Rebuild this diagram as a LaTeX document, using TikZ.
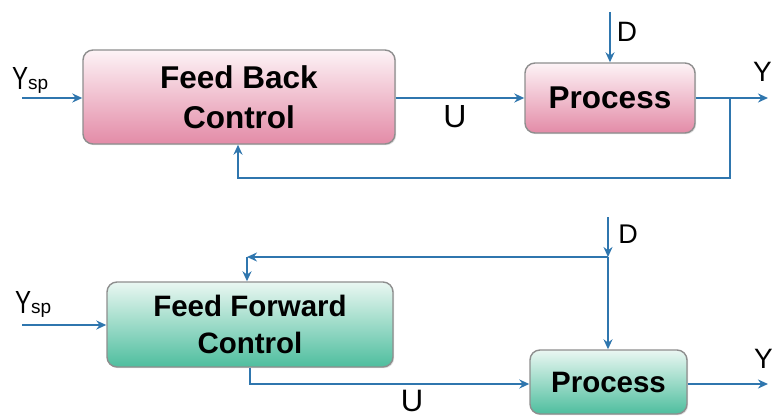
\documentclass[tikz,border=0pt]{standalone}
\usepackage{fontspec}
\setmainfont{Liberation Sans}
\usetikzlibrary{arrows.meta,shadows}
\definecolor{lineblue}{HTML}{2F76AE}
\definecolor{pinktop}{HTML}{FDF3F6}
\definecolor{pinkbot}{HTML}{E38BA7}
\definecolor{greentop}{HTML}{EAF7F2}
\definecolor{greenbot}{HTML}{4EBE9E}
\definecolor{boxborder}{HTML}{8E8E8E}
\tikzset{
  blockbase/.style={draw=boxborder, line width=1.4pt, rounded corners=10pt, align=center,
    inner sep=0pt, font=\bfseries, text=black,
    drop shadow={opacity=0.25, shadow xshift=1.2pt, shadow yshift=-1.2pt}},
  pinkbox/.style={blockbase, top color=pinktop, bottom color=pinkbot},
  greenbox/.style={blockbase, top color=greentop, bottom color=greenbot},
  conn/.style={draw=lineblue, line width=2.1pt},
  arr/.style={conn, -{Stealth[length=10pt,width=9pt]}},
  lbl/.style={inner sep=0pt, text=black},
}
\newcommand{\Ysub}{\scalebox{0.75}[1]{\fontsize{32}{32}\selectfont Y}{\fontsize{19}{19}\selectfont sp}}
\begin{document}
\begin{tikzpicture}[x=1pt,y=-1pt]
\useasboundingbox (0,0) rectangle (774,417);
% ---------------- top: feedback ----------------
\node[pinkbox, minimum width=312pt, minimum height=94pt,
      font=\fontsize{31.5}{40}\selectfont\bfseries] (FB) at (239,97) {Feed Back\\Control};
\node[pinkbox, minimum width=170pt, minimum height=70pt,
      font=\fontsize{31.5}{36}\selectfont\bfseries] (P1) at (610,98) {Process};
\coordinate (ysp1s) at (22,98);
\coordinate (d1s) at (610,12);
\coordinate (y1e) at (768,98);
\coordinate (br1) at (730,98);
\coordinate (fb1) at (730,178);
\coordinate (fb2) at (238,178);
\draw[arr] (ysp1s) -- (ysp1s -| FB.west);
\draw[arr] (ysp1s -| FB.east) -- (ysp1s -| P1.west);
\draw[arr] (d1s) -- (P1.north);
\draw[arr] (ysp1s -| P1.east) -- (y1e);
\draw[arr] (br1) -- (fb1) -- (fb2) -- (fb2 |- FB.south);
\node[lbl, anchor=base west] (ysp1) at (12,90) {\Ysub};
\node[lbl, font=\fontsize{32}{32}\selectfont] (u1) at (455,117) {U};
\node[lbl, font=\fontsize{28}{28}\selectfont] (d1) at (627,32) {D};
\node[lbl, anchor=base west, font=\fontsize{28}{28}\selectfont] (y1) at (753,82) {Y};
% ---------------- bottom: feedforward ----------------
\node[greenbox, minimum width=286pt, minimum height=85pt,
      font=\fontsize{29.5}{37}\selectfont\bfseries] (FF) at (250,324.5) {Feed Forward\\Control};
\node[greenbox, minimum width=157pt, minimum height=64pt,
      font=\fontsize{29.5}{34}\selectfont\bfseries] (P2) at (608.5,382) {Process};
\coordinate (ysp2s) at (22,325);
\coordinate (d2s) at (608,217);
\coordinate (j2) at (608,257);
\coordinate (c2) at (247,257);
\coordinate (u2a) at (250,384);
\coordinate (y2e) at (768,384);
\draw[arr] (ysp2s) -- (ysp2s -| FF.west);
\draw[arr] (d2s) -- (j2);
\draw[arr] (j2) -- (j2 |- P2.north);
\draw[arr] (j2) -- (c2);
\draw[arr] (c2) -- (c2 |- FF.north);
\draw[arr] (u2a |- FF.south) -- (u2a) -- (u2a -| P2.west);
\draw[arr] (u2a -| P2.east) -- (y2e);
\node[lbl, anchor=base west] (ysp2) at (15,313) {\Ysub};
\node[lbl, font=\fontsize{31}{31}\selectfont] (u2) at (412,401) {U};
\node[lbl, font=\fontsize{27}{27}\selectfont] (d2) at (628,234) {D};
\node[lbl, anchor=base west, font=\fontsize{28}{28}\selectfont] (y2) at (754,368) {Y};
\end{tikzpicture}
\end{document}
